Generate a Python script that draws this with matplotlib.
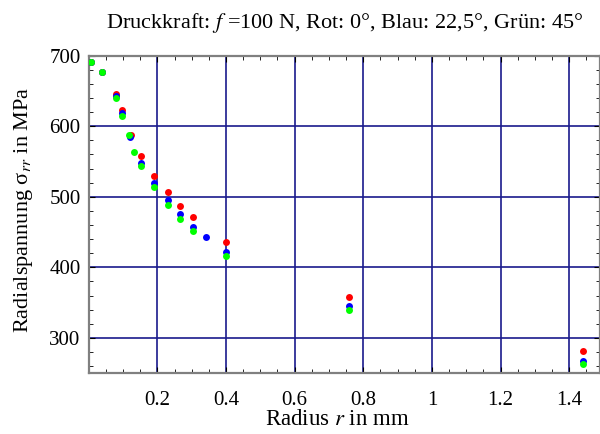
import matplotlib.pyplot as plt
from matplotlib.ticker import MultipleLocator

plt.rcParams['font.family'] = ['Liberation Serif', 'DejaVu Serif']
plt.rcParams['mathtext.fontset'] = 'stix'

# Rot: 0 deg
r_red = [0.005, 0.039, 0.079, 0.096, 0.123, 0.153, 0.19, 0.23, 0.266, 0.303, 0.401, 0.758, 1.441]
s_red = [691, 677, 645, 622.5, 587, 558, 530, 506.5, 487, 471, 435.5, 358.5, 281]
# Blau: 22,5 deg
r_blue = [0.005, 0.039, 0.079, 0.096, 0.121, 0.153, 0.19, 0.23, 0.266, 0.303, 0.341, 0.401, 0.758, 1.441]
s_blue = [691, 677, 642, 618, 585, 548, 519, 495, 475, 457, 443, 422, 345, 268]
# Gruen: 45 deg
r_green = [0.005, 0.039, 0.079, 0.096, 0.116, 0.133, 0.153, 0.19, 0.23, 0.266, 0.303, 0.401, 0.758, 1.441]
s_green = [691, 677, 640, 614.5, 587, 564, 543.5, 514, 489, 469, 451.5, 416, 339, 262.5]

fig = plt.figure(figsize=(6, 4.34), dpi=100)
ax = fig.add_axes([0.148, 0.14, 0.852, 0.732])

ax.plot(r_red, s_red, 'o', color='#ff0000', ms=5, mec='none', zorder=3)
ax.plot(r_blue, s_blue, 'o', color='#0000ff', ms=5, mec='none', zorder=3)
ax.plot(r_green, s_green, 'o', color='#00ff00', ms=5, mec='none', zorder=3)

ax.set_xlim(0, 1.49)
ax.set_ylim(250, 700)
ax.xaxis.set_major_locator(MultipleLocator(0.2))
ax.xaxis.set_minor_locator(MultipleLocator(0.05))
ax.yaxis.set_major_locator(MultipleLocator(100))
ax.yaxis.set_minor_locator(MultipleLocator(20))
ax.set_xticks([0.2, 0.4, 0.6, 0.8, 1.0, 1.2, 1.4])
ax.set_xticklabels(['0.2', '0.4', '0.6', '0.8', '1', '1.2', '1.4'])

ax.grid(True, which='major', color='#1a1a8c', lw=1.2)
ax.set_axisbelow(True)
for s in ax.spines.values():
    s.set_color('#808080')
    s.set_linewidth(1.6)

ax.tick_params(which='both', direction='in', top=True, right=True, color='black')
ax.tick_params(which='major', length=4, labelsize=15)
ax.tick_params(which='minor', length=3)
ax.tick_params(axis='x', which='major', pad=13)
ax.tick_params(axis='y', which='major', pad=6)

ax.set_xlabel('Radius $r$ in mm', fontsize=16.5)
ax.xaxis.set_label_coords(0.487, -0.112)
ax.set_ylabel('Radialspannung σ$_{rr}$ in MPa', fontsize=16)
ax.yaxis.set_label_coords(-0.105, 0.515)
ax.set_title('Druckkraft: $f$ =100 N, Rot: 0°, Blau: 22,5°, Grün: 45°', fontsize=16, pad=20)

fig.savefig('out.png', dpi=100)
